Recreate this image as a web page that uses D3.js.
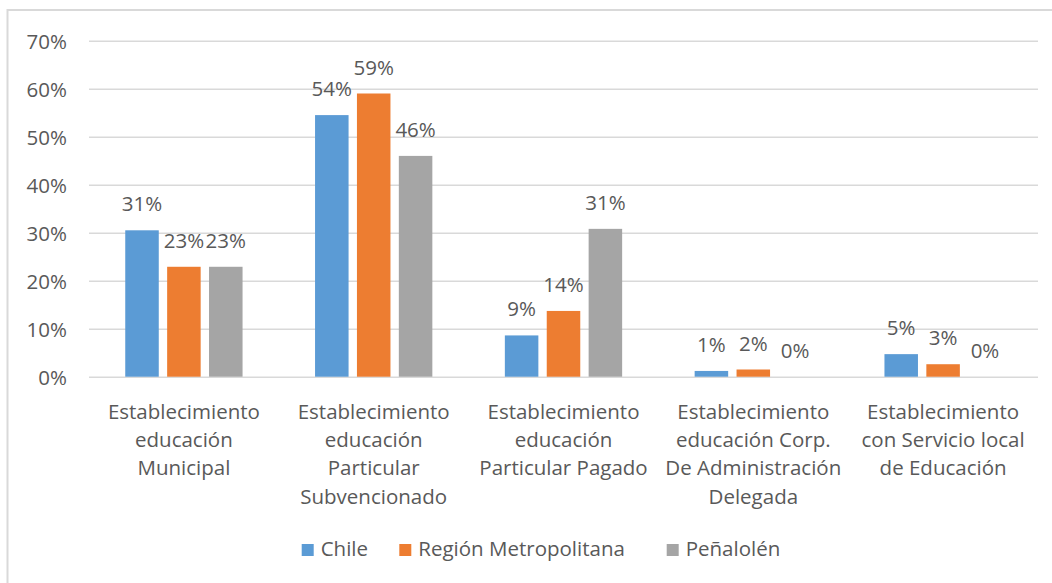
<!DOCTYPE html>
<html><head><meta charset="utf-8">
<script src="https://cdn.jsdelivr.net/npm/d3@7"></script>
<style>
html,body{margin:0;padding:0;background:#fff;}
text{font-family:"Open Sans",sans-serif;fill:#595959;}
</style></head>
<body>
<svg id="chart" width="1052" height="583"></svg>
<script>
const categories = [
  ["Establecimiento","educación","Municipal"],
  ["Establecimiento","educación","Particular","Subvencionado"],
  ["Establecimiento","educación","Particular Pagado"],
  ["Establecimiento","educación Corp.","De Administración","Delegada"],
  ["Establecimiento","con Servicio local","de Educación"]
];
const seriesNames = ["Chile","Región Metropolitana","Peñalolén"];
const chile = [0.305, 0.545, 0.086, 0.012, 0.047];
const region = [0.229, 0.590, 0.137, 0.015, 0.026];
const penalolen = [0.229, 0.460, 0.308, 0.0, 0.0];
const labelsChile = ["31%","54%","9%","1%","5%"];
const labelsRegion = ["23%","59%","14%","2%","3%"];
const labelsPenalolen = ["23%","46%","31%","0%","0%"];
const yTicks = [0,0.1,0.2,0.3,0.4,0.5,0.6,0.7];
const colors = ["#5b9bd5","#ed7d31","#a5a5a5"];

const series = [
  {name: seriesNames[0], values: chile, labels: labelsChile},
  {name: seriesNames[1], values: region, labels: labelsRegion},
  {name: seriesNames[2], values: penalolen, labels: labelsPenalolen}
];

const svg = d3.select("#chart");
const fs = 20.5;

// frame
svg.append("path").attr("d","M7.5,583 V10 H1052").attr("fill","none").attr("stroke","#d9d9d9").attr("stroke-width",2);

const pLeft = 89, pRight = 1038, pTop = 40.7, pBottom = 376.7;
const y = d3.scaleLinear().domain([0,0.7]).range([pBottom, pTop]);
const x0 = d3.scaleBand().domain(d3.range(categories.length)).range([pLeft,pRight]).paddingInner(0.382).paddingOuter(0.191);
const x1 = d3.scaleBand().domain(d3.range(series.length)).range([0, x0.bandwidth()]).paddingInner(0.2).paddingOuter(0);

// gridlines
const yAxis = d3.axisLeft(y).tickValues(yTicks).tickFormat(d3.format(".0%")).tickSize(-(pRight-pLeft)).tickPadding(22);
const ga = svg.append("g").attr("transform",`translate(${pLeft},0)`).call(yAxis);
ga.select(".domain").remove();
ga.selectAll(".tick line").attr("stroke","#d9d9d9").attr("stroke-width",1.5);
ga.selectAll(".tick text").attr("font-size",fs).attr("font-family","Open Sans").attr("fill","#595959").attr("dy","0.36em");

// bars
const groups = svg.append("g").selectAll("g").data(series).join("g").attr("fill",(d,i)=>colors[i]);
groups.each(function(s, si){
  const g = d3.select(this);
  g.selectAll("rect").data(s.values).join("rect")
    .attr("x",(v,ci)=>x0(ci)+x1(si))
    .attr("width",x1.bandwidth())
    .attr("y",v=>y(v))
    .attr("height",v=>y(0)-y(v));
  g.selectAll("text").data(s.values).join("text")
    .attr("x",(v,ci)=>x0(ci)+x1(si)+x1.bandwidth()/2)
    .attr("y",v=>y(v)-19)
    .attr("text-anchor","middle")
    .attr("font-size",fs)
    .text((v,ci)=>s.labels[ci]);
});

// category labels
const cl = svg.append("g");
categories.forEach((lines, ci)=>{
  const cx = x0(ci)+x0.bandwidth()/2;
  const t = cl.append("text").attr("text-anchor","middle").attr("font-size",fs)
    .attr("x", cx).attr("y", pBottom+42);
  lines.forEach((ln, li)=>{
    t.append("tspan").attr("x", cx).attr("dy", li===0?0:28.3).text(ln);
  });
});

// legend
const legendX = [301.7, 399.3, 666.7];
const lg = svg.append("g");
series.forEach((s,i)=>{
  lg.append("rect").attr("x",legendX[i]).attr("y",544).attr("width",12).attr("height",12).attr("fill",colors[i]);
  lg.append("text").attr("x",legendX[i]+19).attr("y",556).attr("font-size",fs).text(s.name);
});
</script>
</body></html>
